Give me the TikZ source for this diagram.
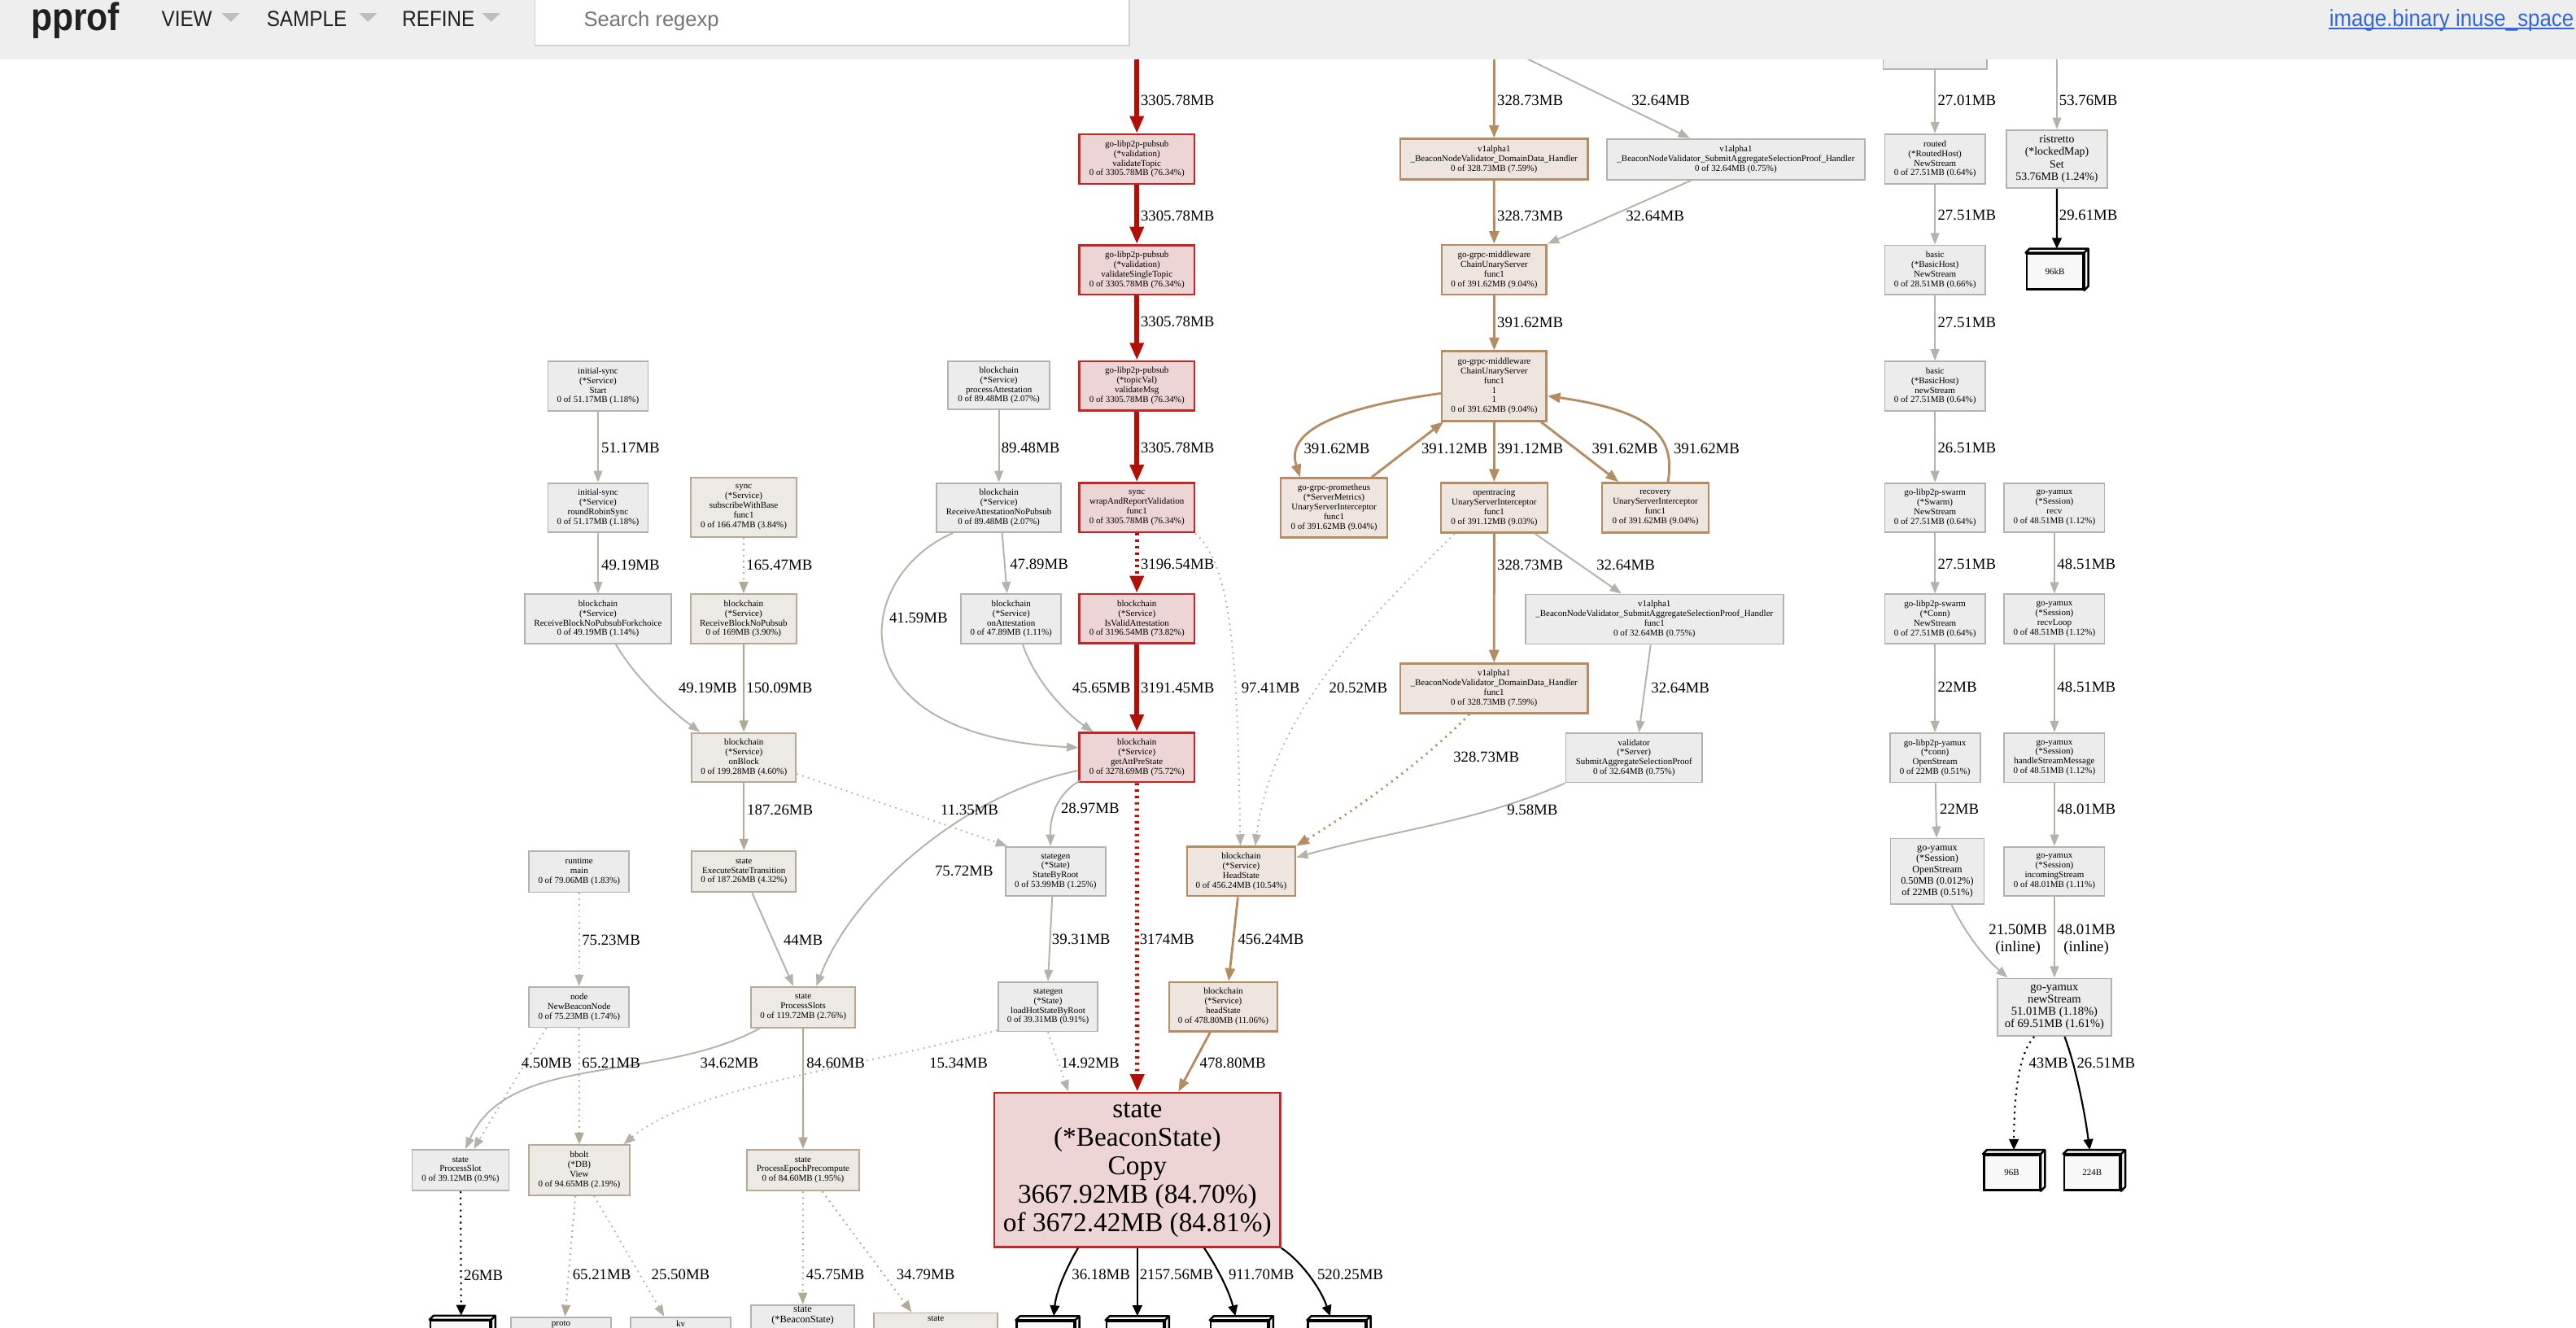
\documentclass[tikz,border=0pt]{standalone}
\usepackage{fontspec}
\setmainfont{Liberation Serif}
\newfontfamily\uifont{Liberation Sans}
\usepackage{graphicx}
\usetikzlibrary{arrows.meta, calc}

\begin{document}
\begin{tikzpicture}[x=0.02cm, y=-0.02cm,
  every node/.style={font=\fontsize{3.1}{3.35}\selectfont, align=center, inner sep=0.5pt},
  sz/.style 2 args={minimum width=#1*0.02cm, minimum height=#2*0.02cm},
  gnode/.style={draw=colGB, fill=colGF, line width=0.5pt},
  tnode/.style={draw=colTB, fill=colTF, line width=0.55pt},
  bnode/.style={draw=colBB, fill=colBF, line width=0.7pt},
  rnode/.style={draw=colRB, fill=colRF, line width=0.7pt},
  leaf/.style={draw=black, fill=colLeaf, line width=0.7pt},
  leafside/.style={draw=black, fill=colLeaf, line width=0.7pt, line join=round},
  elab/.style={font=\fontsize{5.3}{6}\selectfont, anchor=west, inner sep=0pt},
  menu/.style={anchor=base west, inner sep=0pt, text=colTxt, font=\uifont\fontsize{7.6}{8}\selectfont},
  gedge/.style={draw=colGE, line width=0.55pt, -{Triangle[length=4pt, width=3pt]}},
  gdot/.style={gedge, dash pattern=on 0.5pt off 1.5pt},
  tedge/.style={draw=colTE, line width=0.6pt, -{Triangle[length=4pt, width=3.1pt]}},
  tdot/.style={tedge, dash pattern=on 0.5pt off 1.5pt},
  bedge/.style={draw=colBE, line width=0.8pt, -{Triangle[length=4.4pt, width=3.4pt]}},
  bdot/.style={bedge, dash pattern=on 0.6pt off 1.6pt},
  redge/.style={draw=colRE, line width=1.7pt, -{Triangle[length=6pt, width=4.6pt]}},
  rdash/.style={redge, line width=1.5pt, dash pattern=on 0.8pt off 1.4pt},
  kedge/.style={draw=black, line width=0.6pt, -{Triangle[length=3.7pt, width=3.3pt]}},
  kdot/.style={kedge, dash pattern=on 0.6pt off 1.5pt}]
  % Define colors
  \definecolor{colHead}{RGB}{238,238,238}   % top bar
  \definecolor{colTxt}{RGB}{33,33,33}
  \definecolor{colTri}{RGB}{190,190,190}
  \definecolor{colHint}{RGB}{117,117,117}
  \definecolor{colLink}{RGB}{51,103,214}
  \definecolor{colShadow}{RGB}{208,208,208}
  \definecolor{colRF}{RGB}{237,213,213}     % hot - red
  \definecolor{colRB}{RGB}{196,38,38}
  \definecolor{colRE}{RGB}{178,16,6}
  \definecolor{colGF}{RGB}{237,236,236}     % cold - gray
  \definecolor{colGB}{RGB}{180,178,172}
  \definecolor{colGE}{RGB}{180,178,170}
  \definecolor{colTF}{RGB}{237,233,229}     % warm - tan
  \definecolor{colTB}{RGB}{182,170,150}
  \definecolor{colTE}{RGB}{178,168,150}
  \definecolor{colBF}{RGB}{237,229,222}     % warmer - brown
  \definecolor{colBB}{RGB}{182,140,98}
  \definecolor{colBE}{RGB}{180,140,96}
  \definecolor{colLeaf}{RGB}{248,248,248}

  \useasboundingbox (0,0) rectangle (1568,808);
  \clip (0,0) rectangle (1568,808);

  % Sources above the visible part
  \coordinate (srcRed) at (692,36);
  \coordinate (srcDD) at (909.5,36);
  \coordinate (srcSA) at (930,36);
  \coordinate (srcRist) at (1252,36);

  % Hot path (center)
  \node (vTopic)  [rnode, sz={70}{30}] at (692,96.8) {go-libp2p-pubsub\\(*validation)\\validateTopic\\0 of 3305.78MB (76.34\%)};
  \node (vSingle) [rnode, sz={70}{30}] at (692,164.2) {go-libp2p-pubsub\\(*validation)\\validateSingleTopic\\0 of 3305.78MB (76.34\%)};
  \node (vMsg)    [rnode, sz={70}{30}] at (692,234.8) {go-libp2p-pubsub\\(*topicVal)\\validateMsg\\0 of 3305.78MB (76.34\%)};
  \node (wrapVal) [rnode, sz={70}{30}] at (692,309) {sync\\wrapAndReportValidation\\func1\\0 of 3305.78MB (76.34\%)};
  \node (isValid) [rnode, sz={70}{30}] at (692,376.6) {blockchain\\(*Service)\\IsValidAttestation\\0 of 3196.54MB (73.82\%)};
  \node (getAtt)  [rnode, sz={70}{30}] at (692,461) {blockchain\\(*Service)\\getAttPreState\\0 of 3278.69MB (75.72\%)};
  \node (stCopy)  [rnode, sz={174}{94}, font=\fontsize{9.4}{9.9}\selectfont] at (692.3,712) {state\\(*BeaconState)\\Copy\\3667.92MB (84.70\%)\\of 3672.42MB (84.81\%)};

  % Attestation side
  \node (procAtt) [gnode, sz={62}{29}] at (608,234.5) {blockchain\\(*Service)\\processAttestation\\0 of 89.48MB (2.07\%)};
  \node (recvAtt) [gnode, sz={76}{30}] at (608,309) {blockchain\\(*Service)\\ReceiveAttestationNoPubsub\\0 of 89.48MB (2.07\%)};
  \node (onAtt)   [gnode, sz={61}{30}] at (615.5,376.6) {blockchain\\(*Service)\\onAttestation\\0 of 47.89MB (1.11\%)};

  % Block side
  \node (isStart) [gnode, sz={61}{30}] at (364,235) {initial-sync\\(*Service)\\Start\\0 of 51.17MB (1.18\%)};
  \node (isRobin) [gnode, sz={61}{30}] at (364,309) {initial-sync\\(*Service)\\roundRobinSync\\0 of 51.17MB (1.18\%)};
  \node (rcvFork) [gnode, sz={89}{30}] at (364,376.6) {blockchain\\(*Service)\\ReceiveBlockNoPubsubForkchoice\\0 of 49.19MB (1.14\%)};
  \node (subBase) [tnode, sz={64}{36}] at (452.7,308.7) {sync\\(*Service)\\subscribeWithBase\\func1\\0 of 166.47MB (3.84\%)};
  \node (rcvBlk)  [tnode, sz={64.6}{30}] at (452.6,376.6) {blockchain\\(*Service)\\ReceiveBlockNoPubsub\\0 of 169MB (3.90\%)};
  \node (onBlk)   [tnode, sz={63.5}{30}] at (452.8,461) {blockchain\\(*Service)\\onBlock\\0 of 199.28MB (4.60\%)};
  \node (execST)  [tnode, sz={63.5}{25}] at (452.8,530.5) {state\\ExecuteStateTransition\\0 of 187.26MB (4.32\%)};
  \node (rtMain)  [gnode, sz={61}{25}] at (352.5,530.5) {runtime\\main\\0 of 79.06MB (1.83\%)};
  \node (newBN)   [gnode, sz={61}{24.6}] at (352.5,613) {node\\NewBeaconNode\\0 of 75.23MB (1.74\%)};
  \node (procSlots) [tnode, sz={63.5}{24.6}] at (488.9,613) {state\\ProcessSlots\\0 of 119.72MB (2.76\%)};
  \node (procSlot)  [gnode, sz={59}{25}] at (280.3,712.2) {state\\ProcessSlot\\0 of 39.12MB (0.9\%)};
  \node (bboltView) [tnode, sz={61}{30.4}] at (352.6,712.2) {bbolt\\(*DB)\\View\\0 of 94.65MB (2.19\%)};
  \node (procEpoch) [tnode, sz={68.4}{25}] at (488.8,712.2) {state\\ProcessEpochPrecompute\\0 of 84.60MB (1.95\%)};
  \node (protoN) [gnode, sz={61}{10}, anchor=north, inner ysep=1.2pt, text depth=14pt] at (341.5,801.2) {proto};
  \node (kvN)    [gnode, sz={61}{10}, anchor=north, inner ysep=1.2pt, text depth=14pt] at (414.3,801.2) {kv};
  \node (stBS)   [gnode, sz={63}{10}, anchor=north, text depth=14pt, font=\fontsize{3.5}{3.7}\selectfont] at (488.6,793.8) {state\\(*BeaconState)};
  \node (stX)    [tnode, sz={75}{10}, anchor=north, inner ysep=1.2pt, text depth=14pt] at (569.6,798.6) {state};

  % State lookups
  \node (sbRoot)  [gnode, sz={61}{30}] at (642.5,530.4) {stategen\\(*State)\\StateByRoot\\0 of 53.99MB (1.25\%)};
  \node (loadHot) [gnode, sz={60.6}{30}] at (637.9,612.7) {stategen\\(*State)\\loadHotStateByRoot\\0 of 39.31MB (0.91\%)};
  \node (headStU) [bnode, sz={66}{30}] at (755.5,530.4) {blockchain\\(*Service)\\HeadState\\0 of 456.24MB (10.54\%)};
  \node (headStL) [bnode, sz={66}{30}] at (744.6,612.7) {blockchain\\(*Service)\\headState\\0 of 478.80MB (11.06\%)};

  % gRPC chain
  \node (ddHandler) [bnode, sz={114}{24.8}] at (909.4,96.9) {v1alpha1\\\_BeaconNodeValidator\_DomainData\_Handler\\0 of 328.73MB (7.59\%)};
  \node (saHandler) [gnode, sz={157}{24.8}] at (1056.6,96.9) {v1alpha1\\\_BeaconNodeValidator\_SubmitAggregateSelectionProof\_Handler\\0 of 32.64MB (0.75\%)};
  \node (chainUS)   [bnode, sz={63.7}{30.4}] at (909.5,164.2) {go-grpc-middleware\\ChainUnaryServer\\func1\\0 of 391.62MB (9.04\%)};
  \node (chainUS11) [bnode, sz={63.7}{42.4}] at (909.5,235) {go-grpc-middleware\\ChainUnaryServer\\func1\\1\\1\\0 of 391.62MB (9.04\%)};
  \node (promUSI)   [bnode, sz={65}{36}] at (812,309) {go-grpc-prometheus\\(*ServerMetrics)\\UnaryServerInterceptor\\func1\\0 of 391.62MB (9.04\%)};
  \node (otUSI)     [bnode, sz={65}{30.3}] at (909.5,309) {opentracing\\UnaryServerInterceptor\\func1\\0 of 391.12MB (9.03\%)};
  \node (recUSI)    [bnode, sz={65}{30.3}] at (1007.6,309) {recovery\\UnaryServerInterceptor\\func1\\0 of 391.62MB (9.04\%)};
  \node (saFunc)    [gnode, sz={157}{30.3}] at (1007,376.9) {v1alpha1\\\_BeaconNodeValidator\_SubmitAggregateSelectionProof\_Handler\\func1\\0 of 32.64MB (0.75\%)};
  \node (ddFunc)    [bnode, sz={114}{30.2}] at (909.4,419) {v1alpha1\\\_BeaconNodeValidator\_DomainData\_Handler\\func1\\0 of 328.73MB (7.59\%)};
  \node (valSASP)   [gnode, sz={83}{30}] at (994.6,461.2) {validator\\(*Server)\\SubmitAggregateSelectionProof\\0 of 32.64MB (0.75\%)};

  % libp2p / yamux columns
  \node (hidTop)     [gnode, sz={63}{30}, anchor=south] at (1177.8,42.6) {};
  \node (routedNS)   [gnode, sz={61}{30.3}] at (1177.8,96.8) {routed\\(*RoutedHost)\\NewStream\\0 of 27.51MB (0.64\%)};
  \node (basicNS)    [gnode, sz={61}{30}] at (1177.8,164.3) {basic\\(*BasicHost)\\NewStream\\0 of 28.51MB (0.66\%)};
  \node (basicns)    [gnode, sz={61}{30}] at (1177.8,235) {basic\\(*BasicHost)\\newStream\\0 of 27.51MB (0.64\%)};
  \node (swarmNS)    [gnode, sz={61}{30}] at (1177.8,309) {go-libp2p-swarm\\(*Swarm)\\NewStream\\0 of 27.51MB (0.64\%)};
  \node (swarmConn)  [gnode, sz={61}{30}] at (1177.8,376.7) {go-libp2p-swarm\\(*Conn)\\NewStream\\0 of 27.51MB (0.64\%)};
  \node (yxConn)     [gnode, sz={55}{30}] at (1177.8,461.2) {go-libp2p-yamux\\(*conn)\\OpenStream\\0 of 22MB (0.51\%)};
  \node (sessOpen)   [gnode, sz={57}{40}, font=\fontsize{3.45}{3.9}\selectfont] at (1179.2,530.4) {go-yamux\\(*Session)\\OpenStream\\0.50MB (0.012\%)\\of 22MB (0.51\%)};
  \node (ristSet)    [gnode, sz={61.4}{35.5}, font=\fontsize{3.9}{4.3}\selectfont] at (1252,96.8) {ristretto\\(*lockedMap)\\Set\\53.76MB (1.24\%)};
  \node (yxRecv)     [gnode, sz={61}{30}] at (1250.5,309) {go-yamux\\(*Session)\\recv\\0 of 48.51MB (1.12\%)};
  \node (yxLoop)     [gnode, sz={61}{30}] at (1250.5,376.7) {go-yamux\\(*Session)\\recvLoop\\0 of 48.51MB (1.12\%)};
  \node (yxHandle)   [gnode, sz={61}{30}] at (1250.5,461.2) {go-yamux\\(*Session)\\handleStreamMessage\\0 of 48.51MB (1.12\%)};
  \node (yxIncoming) [gnode, sz={61}{30}] at (1250.5,530.4) {go-yamux\\(*Session)\\incomingStream\\0 of 48.01MB (1.11\%)};
  \node (yxNew)      [gnode, sz={69}{35}, font=\fontsize{4.1}{4.3}\selectfont] at (1250.5,613) {go-yamux\\newStream\\51.01MB (1.18\%)\\of 69.51MB (1.61\%)};

  % Leaf (size) boxes
  \node (leafKB)  [leaf, sz={34.4}{21.7}] at (1250.8,165.3) {96kB};
  \node (leaf96)  [leaf, sz={34}{21.3}] at (1224.6,713.6) {96B};
  \node (leaf224) [leaf, sz={34}{21.3}] at (1273.5,713.6) {224B};
  \node (leafPS)  [leaf, sz={36.4}{22}, anchor=north] at (280.2,803.2) {};
  \node (leafA)   [leaf, sz={35}{22}, anchor=north] at (636.4,803.5) {};
  \node (leafB)   [leaf, sz={35}{22}, anchor=north] at (691,803.5) {};
  \node (leafC)   [leaf, sz={35}{22}, anchor=north] at (754.4,803.5) {};
  \node (leafD)   [leaf, sz={35}{22}, anchor=north] at (813.7,803.5) {};
  \foreach \n in {leafKB,leaf96,leaf224,leafPS,leafA,leafB,leafC,leafD} {
    \filldraw[leafside] (\n.north west) -- ++(2.5,-2.5) -| ($(\n.south east)+(2.5,-2.5)$) -- (\n.south east) -- (\n.north east) -- cycle;
    \draw[leafside] (\n.north east) -- ++(2.5,-2.5);
  }

  % Hot path edges
  \draw[redge] (srcRed) -- (vTopic);
  \draw[redge] (vTopic) -- (vSingle);
  \draw[redge] (vSingle) -- (vMsg);
  \draw[redge] (vMsg) -- (wrapVal);
  \draw[rdash] (wrapVal) -- (isValid);
  \draw[redge] (isValid) -- (getAtt);
  \draw[rdash] (getAtt) -- (stCopy);

  % Attestation edges
  \draw[gedge] (procAtt) -- (recvAtt);
  \draw[gedge] ($(recvAtt.south)+(2,0)$) -- ($(onAtt.north)+(-2.5,0)$);
  \draw[gedge] ($(recvAtt.south west)+(10.5,0)$) .. controls (520,350) and (505,448) .. ($(getAtt.west)+(0,-6)$);
  \draw[gedge] ($(onAtt.south)+(7,0)$) .. controls (630,415) and (650,435) .. ($(getAtt.north west)+(9,0)$);
  \draw[gdot] (wrapVal.south east) .. controls (750,345) and (753,400) .. ($(headStU.north)+(-0.5,0)$);

  % Block edges
  \draw[gedge] (isStart) -- (isRobin);
  \draw[gedge] (isRobin) -- (rcvFork);
  \draw[tdot] (subBase) -- (rcvBlk);
  \draw[gedge] ($(rcvFork.south)+(10.8,0)$) .. controls (385,410) and (405,430) .. ($(onBlk.north west)+(5.5,0)$);
  \draw[tedge] (rcvBlk) -- (onBlk);
  \draw[tedge] (onBlk) -- (execST);
  \draw[gdot] ($(onBlk.east)+(0,10)$) -- ($(sbRoot.north west)+(1.5,0)$);
  \draw[gedge] ($(execST.south)+(5,0)$) -- ($(procSlots.north)+(-6,0)$);
  \draw[gedge] ($(getAtt.west)+(0,8)$) .. controls (590,482) and (520,540) .. ($(procSlots.north)+(8,0)$);
  \draw[gedge] ($(getAtt.south west)+(1,-1.5)$) .. controls (645,482) and (639,495) .. ($(sbRoot.north)+(-3,0)$);
  \draw[gedge] ($(sbRoot.south)+(-2,0)$) -- (loadHot.north);
  \draw[gdot] (loadHot.south) -- ($(stCopy.north)+(-42,0)$);
  \draw[gdot] ($(loadHot.south west)+(0,-1)$) .. controls (520,650) and (420,662) .. ($(bboltView.north east)+(-4,0)$);
  \draw[gdot] (rtMain) -- (newBN);
  \draw[gdot] ($(newBN.south west)+(11,0)$) -- ($(procSlot.north)+(8,0)$);
  \draw[tdot] (newBN) -- (bboltView);
  \draw[gedge] ($(procSlots.south west)+(6,0)$) .. controls (400,660) and (310,640) .. ($(procSlot.north)+(3,0)$);
  \draw[tedge] (procSlots) -- (procEpoch);
  \draw[kdot] (procSlot) -- ($(leafPS.north)+(0.5,-2.5)$);
  \draw[tdot] ($(bboltView.south)+(-2.4,0)$) -- ($(protoN.north)+(2.4,0)$);
  \draw[gdot] ($(bboltView.south)+(9,0)$) -- ($(kvN.north)+(-10,0)$);
  \draw[tdot] (procEpoch) -- (stBS);
  \draw[tdot] ($(procEpoch.south)+(11.7,0)$) -- ($(stX.north)+(-14.7,0)$);

  % Head state edges
  \draw[bedge] ($(headStU.south)+(-2,0)$) -- ($(headStL.north)+(3.3,0)$);
  \draw[bedge] ($(headStL.south)+(-8,0)$) -- ($(stCopy.north)+(25,0)$);
  \draw[bdot] ($(ddFunc.south)+(-15,0)$) .. controls (870,460) and (830,490) .. (headStU.north east);
  \draw[gedge] (valSASP.south west) .. controls (900,500) and (850,505) .. ($(headStU.east)+(0,-8.6)$);
  \draw[gdot] ($(otUSI.south west)+(9,0)$) .. controls (840,370) and (775,430) .. ($(headStU.north)+(8.5,0)$);

  % Copy to leaves
  \draw[kedge] ($(stCopy.south west)+(51.5,0)$) .. controls (650,770) and (643,785) .. ($(leafA.north)+(5,-2.5)$);
  \draw[kedge] (stCopy.south) -- ($(leafB.north)+(1.3,-2.5)$);
  \draw[kedge] ($(stCopy.south)+(40.7,0)$) .. controls (740,770) and (748,785) .. ($(leafC.north)+(-2.4,-2.5)$);
  \draw[kedge] (stCopy.south east) .. controls (790,766) and (803,782) .. ($(leafD.north)+(-4,-2.5)$);

  % gRPC edges
  \draw[bedge] (srcDD) -- (ddHandler);
  \draw[gedge] (srcSA) -- ($(saHandler.north)+(-28,0)$);
  \draw[bedge] (ddHandler) -- (chainUS);
  \draw[gedge] ($(saHandler.south)+(-27,0)$) -- (chainUS.north east);
  \draw[bedge] (chainUS) -- (chainUS11);
  \draw[bedge] ($(chainUS11.west)+(0,4.4)$) .. controls (815,248) and (782,262) .. ($(promUSI.north)+(-20.6,0)$);
  \draw[bedge] ($(promUSI.north)+(23,0)$) -- ($(chainUS11.south west)+(1.5,0)$);
  \draw[bedge] (chainUS11) -- (otUSI);
  \draw[bedge] ($(chainUS11.south east)+(-4,0)$) -- ($(recUSI.north west)+(10.7,0)$);
  \draw[bedge] ($(recUSI.north)+(7.7,0)$) .. controls (1020,265) and (1005,250) .. ($(chainUS11.east)+(0,6)$);
  \draw[bedge] (otUSI) -- (ddFunc);
  \draw[gedge] ($(otUSI.south east)+(-8.4,0)$) -- ($(saFunc.north)+(-20,0)$);
  \draw[gedge] ($(saFunc.south)+(-2.3,0)$) -- ($(valSASP.north)+(3,0)$);

  % libp2p / yamux edges
  \foreach \a/\b in {hidTop/routedNS, routedNS/basicNS, basicNS/basicns, basicns/swarmNS, swarmNS/swarmConn, swarmConn/yxConn, yxConn/sessOpen, yxRecv/yxLoop, yxLoop/yxHandle, yxHandle/yxIncoming, yxIncoming/yxNew} {
    \draw[gedge] (\a) -- (\b);
  }
  \draw[gedge] (srcRist) -- (ristSet);
  \draw[kedge] (ristSet) -- ($(leafKB.north)+(1.2,-2.5)$);
  \draw[gedge] ($(sessOpen.south)+(8.7,0)$) .. controls (1195,565) and (1205,580) .. ($(yxNew.north west)+(6.5,0)$);
  \draw[kdot] ($(yxNew.south)+(-12.3,0)$) .. controls (1230,640) and (1226,660) .. ($(leaf96.north)+(1.2,-2.5)$);
  \draw[kedge] ($(yxNew.south)+(6.2,0)$) .. controls (1262,645) and (1268,670) .. ($(leaf224.north)+(-1.5,-2.5)$);

  % Edge weights
  \foreach \x/\y/\t [count=\i] in {694/61/3305.78MB, 694/131.3/3305.78MB, 694/196/3305.78MB, 694/272.7/3305.78MB, 694/343.3/3196.54MB, 694/418.5/3191.45MB, 693.4/571.7/3174MB,
      609.2/272.7/89.48MB, 614.4/343.3/47.89MB, 541/376/41.59MB, 652.3/418.5/45.65MB, 755.3/418.5/97.41MB, 808.7/418.5/20.52MB, 884.3/460.6/328.73MB, 917/493/9.58MB,
      1004.7/418.5/32.64MB, 971.5/343.9/32.64MB, 911/343.9/328.73MB, 793.3/272.9/391.62MB, 864.9/272.9/391.12MB, 911/272.9/391.12MB, 968.7/272.9/391.62MB, 1018.4/272.9/391.62MB,
      911/196.1/391.62MB, 911/131.3/328.73MB, 989.3/131.3/32.64MB, 911/61/328.73MB, 992.8/61/32.64MB,
      365.7/272.4/51.17MB, 365.7/343.7/49.19MB, 454/343.7/165.47MB, 412.7/418.5/49.19MB, 454/418.5/150.09MB, 454.4/492.8/187.26MB, 572.2/492.8/11.35MB, 568.7/530/75.72MB,
      353.9/572/75.23MB, 476.6/572/44MB, 317/647.2/4.50MB, 353.9/647.2/65.21MB, 425.9/647.2/34.62MB, 490.6/647.2/84.60MB, 565.4/647.2/15.34MB,
      645.5/492/28.97MB, 640/571.7/39.31MB, 645.5/647/14.92MB, 753.2/571.7/456.24MB, 730/647/478.80MB,
      282/776/26MB, 348.2/776/65.21MB, 396.2/776/25.50MB, 490.4/776/45.75MB, 545.3/776/34.79MB, 652.1/775.7/36.18MB, 693.4/775.7/2157.56MB, 747.5/775.7/911.70MB, 801.5/775.7/520.25MB,
      1179.1/61.1/27.01MB, 1179.1/131/27.51MB, 1179.1/196.2/27.51MB, 1179.1/272.5/26.51MB, 1253.1/61.1/53.76MB, 1253.1/131/29.61MB,
      1179.1/343.3/27.51MB, 1251.9/343.3/48.51MB, 1179.1/418/22MB, 1251.9/418/48.51MB, 1180.4/492.5/22MB, 1251.9/492.5/48.01MB, 1234.6/646.9/43MB, 1263.8/646.9/26.51MB} {
    \node (lab\i) [elab] at (\x,\y) {\t};
  }
  \node (labInA) [elab, anchor=center] at (1228.3,572) {21.50MB\\(inline)};
  \node (labInB) [elab, anchor=center] at (1269.9,572) {48.01MB\\(inline)};

  % Top bar
  \fill[colHead] (0,0) rectangle (1568,36);
  \node (logo) [anchor=base west, inner sep=0pt, text=colTxt, font=\uifont\bfseries\fontsize{13.5}{14}\selectfont] at (18.6,18.6) {\scalebox{0.89}[1]{pprof}};
  \node (mView)   [menu] at (98,15.9) {\scalebox{0.9}[1]{VIEW}};
  \node (mSample) [menu] at (162,15.9) {\scalebox{0.9}[1]{SAMPLE}};
  \node (mRefine) [menu] at (244.5,15.9) {\scalebox{0.9}[1]{REFINE}};
  \foreach \tx in {140.5,224,299} {
    \fill[colTri] (\tx-5.5,8) -- (\tx+5.5,8) -- (\tx,13.3) -- cycle;
  }
  \fill[colShadow] (325.5,0) rectangle (687.8,28.4);
  \fill[white] (326,0) rectangle (687,27.4);
  \node (search) [anchor=base west, inner sep=0pt, text=colHint, font=\uifont\fontsize{7.2}{8}\selectfont] at (355,15.9) {Search regexp};
  \node (link) [anchor=base west, inner sep=0pt, text=colLink, font=\uifont\fontsize{8.1}{9}\selectfont] at (1417.5,16.3) {\scalebox{0.9}[1]{image.binary inuse\_space}};
  \draw[colLink, line width=0.45pt] ($(link.base west)+(0,0.9)$) -- ($(link.base east)+(0,0.9)$);
\end{tikzpicture}
\end{document}
